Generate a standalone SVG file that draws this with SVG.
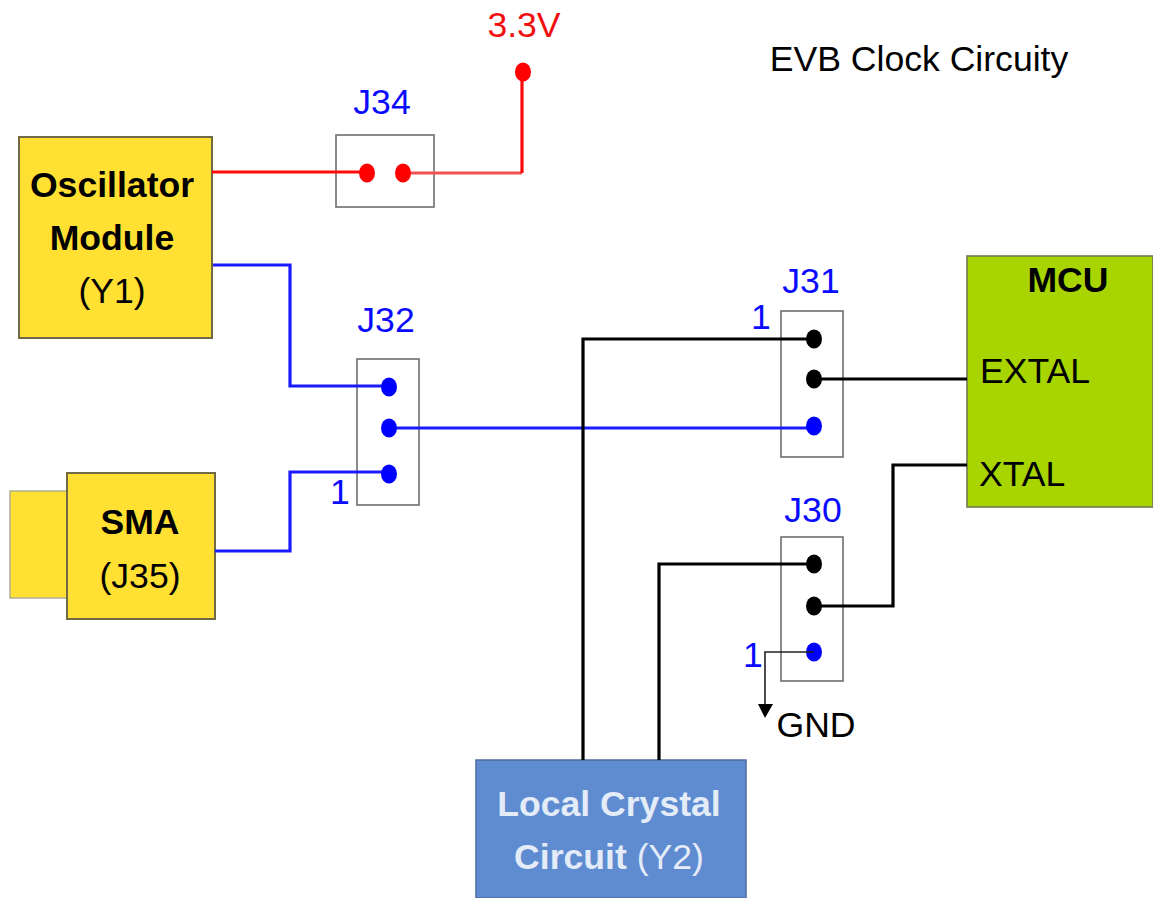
<svg xmlns="http://www.w3.org/2000/svg" width="1153" height="898" viewBox="0 0 1153 898">
<style>
text{font-family:"Liberation Sans",Arial,sans-serif;font-size:35.6px}
.y{fill:#ffe033;stroke:#6f6a45;stroke-width:2}
.j{fill:#fff;stroke:#6e6e6e;stroke-width:1.6}
.w{fill:none;stroke-width:3.2}
.k{stroke:#000}.b{stroke:#1a1aff}.r{stroke:#ff0a0a}
.bl{fill:#0000ff}.re{fill:#ff0000}.bk{fill:#000}
.bt{fill:#0a0aff}
.c{text-anchor:middle}
.bd{font-weight:bold}
</style>
<rect width="1153" height="898" fill="#fff"/>
<g id="title"><text x="919" y="71" class="c">EVB Clock Circuity</text></g>
<g id="v33"><text x="524" y="37" class="c" fill="#f01010">3.3V</text></g>
<g id="osc"><rect class="y" x="19" y="137" width="193" height="201"/>
<text x="112" y="197" class="c bd">Oscillator</text><text x="112" y="250" class="c bd">Module</text><text x="112" y="303" class="c">(Y1)</text></g>
<g id="sma"><rect x="10" y="491" width="57" height="107" fill="#ffe033" stroke="#b0b090" stroke-width="1.5"/><rect class="y" x="67" y="473" width="148" height="146"/>
<text x="140" y="534" class="c bd">SMA</text><text x="140" y="588" class="c">(J35)</text></g>
<g id="j34"><rect class="j" x="336" y="135" width="98" height="72"/><text x="382" y="114" class="c bt">J34</text></g>
<g id="j32"><rect class="j" x="357" y="359" width="62" height="146"/><text x="386" y="332" class="c bt">J32</text><text x="340" y="504" class="c bt">1</text></g>
<g id="j31"><rect class="j" x="781" y="311" width="62" height="146"/><text x="811" y="293" class="c bt">J31</text><text x="761" y="329" class="c bt">1</text></g>
<g id="j30"><rect class="j" x="781" y="537" width="62" height="144"/><text x="813" y="522" class="c bt">J30</text><text x="753" y="667" class="c bt">1</text></g>
<g id="mcu"><rect x="967" y="256" width="186" height="251" fill="#a8d400" stroke="#6f7a50" stroke-width="1.6"/>
<text x="1068" y="292" class="c bd">MCU</text><text x="980" y="383">EXTAL</text><text x="979" y="486">XTAL</text></g>
<g id="crystal"><rect x="476" y="760" width="270" height="138" fill="#5f8bd0" stroke="#4c6ca0" stroke-width="1.5"/>
<text x="609" y="816" class="c bd" fill="#e4ecf8">Local Crystal</text><text x="609" y="869" class="c" fill="#e4ecf8"><tspan class="bd">Circuit</tspan> (Y2)</text></g>
<g id="gnd"><text x="816" y="737" class="c">GND</text></g>
<g id="connectors">
<path class="w r" d="M212 172H367"/><path class="w" stroke="#f05050" d="M403 173H522"/><path class="w r" d="M522 173V72"/>
<ellipse class="re" cx="367" cy="173" rx="8" ry="9.5"/><ellipse class="re" cx="403" cy="173" rx="8" ry="9.5"/><ellipse class="re" cx="523" cy="72" rx="8" ry="9.5"/>
<path class="w b" d="M213 265H290V386H389M389 428H814M215 551H290V472H389"/>
<ellipse class="bl" cx="389" cy="387" rx="8" ry="9.5"/><ellipse class="bl" cx="389" cy="428" rx="8" ry="9.5"/><ellipse class="bl" cx="389" cy="474" rx="8" ry="9.5"/><ellipse class="bl" cx="814" cy="426" rx="8" ry="9.5"/><ellipse class="bl" cx="814" cy="652" rx="8" ry="9.5"/>
<path class="w k" d="M583 760V339H814M814 379H967M659 760V564H814M814 606H893V465H967"/>
<ellipse class="bk" cx="814" cy="339" rx="8" ry="9.5"/><ellipse class="bk" cx="814" cy="379" rx="8" ry="9.5"/><ellipse class="bk" cx="814" cy="564" rx="8" ry="9.5"/><ellipse class="bk" cx="814" cy="606" rx="8" ry="9.5"/>
<path fill="none" stroke="#222" stroke-width="1.6" d="M814 652H765V708"/><path class="bk" d="M758 704H773L765 718Z"/>
</g>
</svg>
